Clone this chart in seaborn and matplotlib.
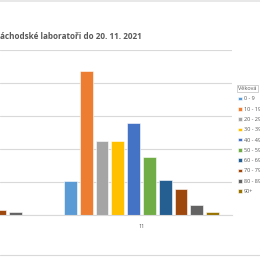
import pandas as pd
import matplotlib
matplotlib.use('Agg')
import matplotlib.pyplot as plt
import seaborn as sns
from matplotlib.lines import Line2D

# Age groups (legend "Věková ...") and Excel office colours
AGES = ['0 - 9', '10 - 19', '20 - 29', '30 - 39', '40 - 49',
        '50 - 59', '60 - 69', '70 - 79', '80 - 89', '90+']
COLORS = ['#5B9BD5', '#ED7D31', '#A5A5A5', '#FFC000', '#4472C4',
          '#70AD47', '#255E91', '#9E480E', '#636363', '#997300']

MONTHS = ['10', '11']

# visible values only (the left part of the chart is cut off)
OCT_AGES = ['70 - 79', '80 - 89', '90+']
OCT_VALUES = [15, 11, 0]
NOV_VALUES = [104, 437, 225, 225, 280, 176, 106, 80, 30, 10]

df = pd.DataFrame({
    'month': ['10'] * len(OCT_AGES) + ['11'] * len(AGES),
    'age': OCT_AGES + AGES,
    'count': OCT_VALUES + NOV_VALUES,
})

sns.set_style('white')
plt.rcParams['font.family'] = ['Open Sans', 'DejaVu Sans']

fig = plt.figure(figsize=(2.6, 2.6), dpi=100)
W = H = 260.0
ax = fig.add_axes([0, (H - 215.3) / H, 232 / W, (215.3 - 50) / H])

sns.barplot(data=df, x='month', y='count', hue='age', order=MONTHS,
            hue_order=AGES, palette=COLORS, saturation=1, width=0.873,
            gap=0.2, edgecolor='white', linewidth=0.4, legend=True, ax=ax)

ax.set_xlim(0.2182, 1.5)
ax.set_ylim(0, 500)
ax.set_yticks(range(0, 501, 100))
ax.yaxis.grid(True, color='#D9D9D9', linewidth=0.8)
ax.set_axisbelow(True)
for s in ['left', 'right', 'top']:
    ax.spines[s].set_visible(False)
ax.spines['bottom'].set_color('#D9D9D9')
ax.spines['bottom'].set_linewidth(0.8)
ax.tick_params(axis='y', left=False, labelleft=False)
ax.tick_params(axis='x', bottom=False, labelsize=4, labelcolor='#595959', pad=3)
ax.set_xlabel('')
ax.set_ylabel('')

# legend at the right edge (cut off)
handles, labels = ax.get_legend_handles_labels()
leg = ax.legend(handles, labels, title='Věková', loc='upper left',
                bbox_to_anchor=(236 / W, 1 - 84 / H),
                bbox_transform=fig.transFigure, frameon=False,
                fontsize=4, title_fontsize=4, handlelength=0.6,
                handleheight=0.6, handletextpad=0.4, labelspacing=0.95,
                borderaxespad=0, alignment='left')
for t in leg.get_texts():
    t.set_color('#595959')
leg.get_title().set_color('#595959')
leg.get_title().set_bbox(dict(facecolor='white', edgecolor='#BFBFBF',
                              linewidth=0.5, pad=0.6))

# title (cropped on the left)
fig.text(0, 1 - 37 / H, 'áchodské laboratoři do 20. 11. 2021', ha='left',
         va='center', fontsize=5.9, fontweight='bold', color='#595959')

# chart area borders
fig.add_artist(Line2D([0, 1], [1 - 255 / H, 1 - 255 / H], color='#D9D9D9',
                      linewidth=0.8, transform=fig.transFigure))
fig.add_artist(Line2D([0, 1], [1 - 1 / H, 1 - 1 / H], color='#E4E4E4',
                      linewidth=1.2, transform=fig.transFigure))

fig.savefig('out.png', dpi=100)
